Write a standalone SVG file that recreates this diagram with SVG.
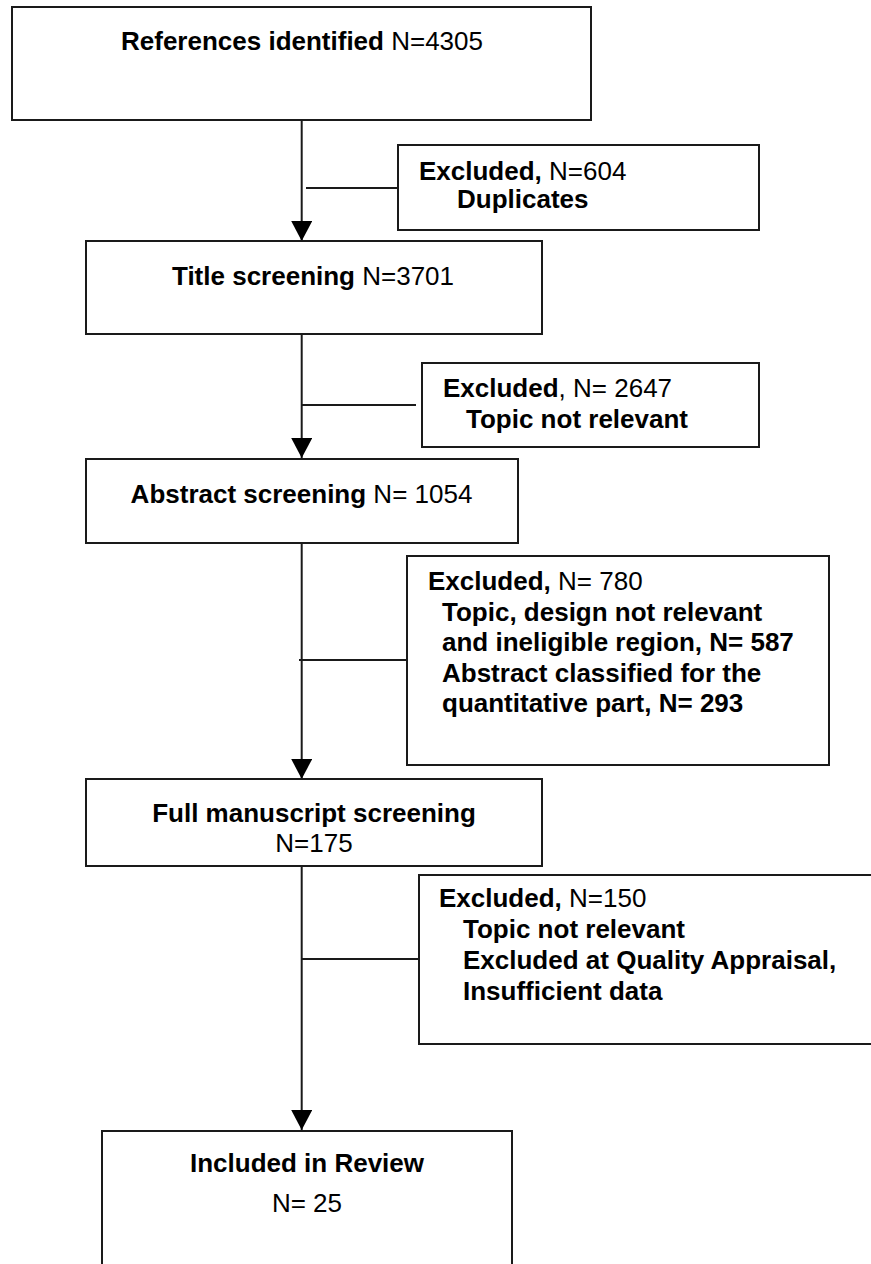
<svg xmlns="http://www.w3.org/2000/svg" width="871" height="1264" viewBox="0 0 871 1264">
<style>
.box{fill:#fff;stroke:#1a1a1a;stroke-width:2}
.ln{fill:none;stroke:#1a1a1a;stroke-width:2}
text{font-family:"Liberation Sans",Arial,sans-serif;font-size:26px;fill:#000}
.b{font-weight:bold}
.c{text-anchor:middle}
</style>
<defs>
<marker id="ah" markerUnits="userSpaceOnUse" markerWidth="21" markerHeight="21" refX="20" refY="10.5" orient="auto" viewBox="0 0 21 21">
<path d="M0,0 L20,10.5 L0,21 z" fill="#000"/>
</marker>
</defs>
<g id="connectors">
<path class="ln" d="M301.7,120 V241" marker-end="url(#ah)"/>
<path class="ln" d="M301.7,334 V458" marker-end="url(#ah)"/>
<path class="ln" d="M301.7,543 V779" marker-end="url(#ah)"/>
<path class="ln" d="M301.7,866 V1130" marker-end="url(#ah)"/>
<path class="ln" d="M306,188 H398"/>
<path class="ln" d="M302,405 H416"/>
<path class="ln" d="M299,660 H406"/>
<path class="ln" d="M302,959 H418"/>
</g>
<g id="references">
<rect class="box" x="12" y="7" width="579" height="113"/>
<text class="c" x="302" y="50"><tspan class="b">References identified</tspan> N=4305</text>
</g>
<g id="excluded-duplicates">
<rect class="box" x="398" y="145" width="361" height="85"/>
<text x="419" y="180"><tspan class="b">Excluded,</tspan> N=604</text>
<text class="b" x="457" y="208">Duplicates</text>
</g>
<g id="title-screening">
<rect class="box" x="86" y="241" width="456" height="93"/>
<text class="c" x="313" y="285"><tspan class="b">Title screening</tspan> N=3701</text>
</g>
<g id="excluded-topic">
<rect class="box" x="422" y="363" width="337" height="84"/>
<text x="443" y="397"><tspan class="b">Excluded</tspan>, N= 2647</text>
<text class="b" x="466" y="428">Topic not relevant</text>
</g>
<g id="abstract-screening">
<rect class="box" x="86" y="459" width="432" height="84"/>
<text class="c" x="301.5" y="503"><tspan class="b">Abstract screening</tspan> N= 1054</text>
</g>
<g id="excluded-abstract">
<rect class="box" x="407" y="556" width="422" height="209"/>
<text x="428" y="590"><tspan class="b">Excluded,</tspan> N= 780</text>
<text class="b" x="442" y="620.5">Topic, design not relevant</text>
<text class="b" x="442" y="651">and ineligible region, N= 587</text>
<text class="b" x="442" y="681.5">Abstract classified for the</text>
<text class="b" x="442" y="712">quantitative part, N= 293</text>
</g>
<g id="full-manuscript">
<rect class="box" x="86" y="779" width="456" height="87"/>
<text class="c b" x="314" y="822">Full manuscript screening</text>
<text class="c" x="314" y="852">N=175</text>
</g>
<g id="excluded-full">
<rect class="box" x="419" y="875" width="470" height="169"/>
<text x="439" y="907"><tspan class="b">Excluded,</tspan> N=150</text>
<text class="b" x="463" y="938">Topic not relevant</text>
<text class="b" x="463" y="969">Excluded at Quality Appraisal,</text>
<text class="b" x="463" y="1000">Insufficient data</text>
</g>
<g id="included">
<rect class="box" x="102" y="1131" width="410" height="140"/>
<text class="c b" x="307" y="1172">Included in Review</text>
<text class="c" x="307" y="1212">N= 25</text>
</g>
</svg>
